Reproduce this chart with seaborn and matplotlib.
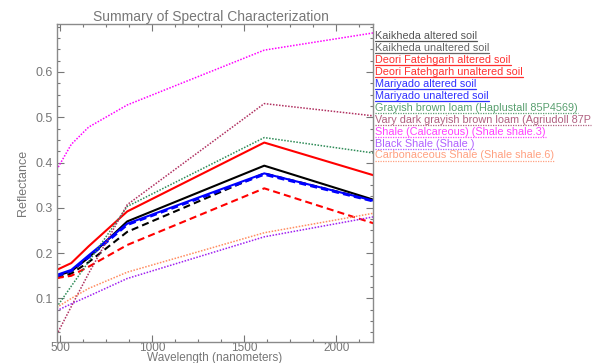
import matplotlib
matplotlib.use("Agg")
import matplotlib.pyplot as plt
import seaborn as sns
import pandas as pd
from matplotlib.lines import Line2D
from matplotlib.ticker import MultipleLocator, FixedLocator

# ---------------- data ----------------
wavelengths = [482, 561, 655, 865, 1609, 2201]

series_labels = [
    "Kaikheda altered soil",
    "Kaikheda unaltered soil",
    "Deori Fatehgarh altered soil",
    "Deori Fatehgarh unaltered soil",
    "Mariyado altered soil",
    "Mariyado unaltered soil",
    "Grayish brown loam (Haplustall 85P4569)",
    "Vary dark grayish brown loam (Agriudoll 87P",
    "Shale (Calcareous) (Shale shale.3)",
    "Black Shale (Shale )",
    "Carbonaceous Shale (Shale shale.6)",
]

kaikheda_altered = [0.150, 0.160, 0.190, 0.270, 0.393, 0.318]
kaikheda_unaltered = [0.145, 0.155, 0.180, 0.247, 0.376, 0.316]
deori_altered = [0.163, 0.178, 0.215, 0.292, 0.444, 0.372]
deori_unaltered = [0.145, 0.150, 0.170, 0.218, 0.343, 0.266]
mariyado_altered = [0.152, 0.163, 0.195, 0.265, 0.376, 0.316]
mariyado_unaltered = [0.149, 0.160, 0.190, 0.262, 0.373, 0.314]
grayish_brown_loam = [0.081, 0.127, 0.181, 0.303, 0.455, 0.421]
very_dark_loam = [0.020, 0.082, 0.155, 0.307, 0.530, 0.503]
shale_calcareous = [0.384, 0.440, 0.478, 0.527, 0.648, 0.686]
black_shale = [0.073, 0.088, 0.105, 0.144, 0.236, 0.280]
carbonaceous_shale = [0.080, 0.100, 0.122, 0.158, 0.245, 0.288]

x_ticks = [500, 1000, 1500, 2000]
y_ticks = [0.1, 0.2, 0.3, 0.4, 0.5, 0.6]

all_values = [kaikheda_altered, kaikheda_unaltered, deori_altered, deori_unaltered,
              mariyado_altered, mariyado_unaltered, grayish_brown_loam, very_dark_loam,
              shale_calcareous, black_shale, carbonaceous_shale]

# ---------------- styles ----------------
line_colors = ["#000000", "#000000", "#ff0000", "#ff0000", "#0000ff", "#0000ff",
               "#2e8b57", "#b03060", "#ff00ff", "#a020f0", "#ff8c60"]
text_colors = ["#555555", "#666666", "#ff3030", "#ff3030", "#3030ff", "#3030ff",
               "#5aa070", "#b06080", "#ff40ff", "#b060ff", "#ffa080"]
dashed = (0, (3.4, 2.0))
dotted = (0, (1.0, 1.0))
line_styles = ["-", dashed, "-", dashed, "-", dashed,
               dotted, dotted, dotted, dotted, dotted]
line_widths = [1.5, 1.5, 1.5, 1.5, 1.5, 1.5, 1.1, 1.1, 1.1, 1.1, 1.1]

sns.set_style("white")
plt.rcParams["font.family"] = ["Liberation Sans", "DejaVu Sans"]

GRAY = "#777777"
W, H = 607, 363
fig = plt.figure(figsize=(W / 100, H / 100), dpi=100)
ax = fig.add_axes([56.7 / W, 1 - 341.5 / H, (373.3 - 56.7) / W, (341.5 - 24.3) / H])

for vals, c, ls, lw in zip(all_values, line_colors, line_styles, line_widths):
    df = pd.DataFrame({"wl": wavelengths, "r": vals})
    sns.lineplot(data=df, x="wl", y="r", ax=ax, color=c, linestyle=ls,
                 linewidth=lw, errorbar=None, sort=False)

ax.set_xlim(482, 2201)
ax.set_ylim(0.005, 0.705)

ax.xaxis.set_major_locator(FixedLocator(x_ticks))
ax.xaxis.set_minor_locator(MultipleLocator(125))
ax.yaxis.set_major_locator(FixedLocator(y_ticks))
ax.yaxis.set_minor_locator(MultipleLocator(0.025))
ax.set_xticklabels([str(v) for v in x_ticks])
ax.set_yticklabels([f"{v:.1f}" for v in y_ticks])

ax.tick_params(axis="both", which="both", direction="in", colors=GRAY,
               top=True, right=True, bottom=True, left=True, width=0.8)
ax.tick_params(axis="both", which="major", length=5)
ax.tick_params(axis="both", which="minor", length=2.5)
ax.tick_params(axis="x", which="major", labelsize=8.5, pad=0.3, labelcolor=GRAY)
ax.tick_params(axis="y", which="major", labelsize=9, pad=3, labelcolor=GRAY)

for sp in ax.spines.values():
    sp.set_color("#8a8a8a")
    sp.set_linewidth(1.0)
    sp.set_visible(True)

ax.set_xlabel("Wavelength (nanometers)", fontsize=8.5, color=GRAY)
ax.xaxis.set_label_coords(0.5, -0.0535)
ax.xaxis.label.set_va("center")
ax.set_ylabel("Reflectance", fontsize=9, color=GRAY)
ax.yaxis.set_label_coords(-0.108, 0.5)
ax.yaxis.label.set_va("center")

fig.text(211 / W, 1 - 17.5 / H, "Summary of Spectral Characterization",
         ha="center", va="center", fontsize=10, color=GRAY)

# ---------------- legend (text list at right, underlined) ----------------
texts = []
for i, (lab, tc) in enumerate(zip(series_labels, text_colors)):
    ypix = 36 + 11.95 * i
    t = fig.text(375 / W, 1 - ypix / H, lab, ha="left", va="center",
                 fontsize=7.8, color=tc)
    texts.append((t, ypix))

fig.canvas.draw()
renderer = fig.canvas.get_renderer()
for (t, ypix), c, ls in zip(texts, text_colors, line_styles):
    bb = t.get_window_extent(renderer)
    x0, x1 = bb.x0, min(bb.x1, W)
    yl = 1 - (ypix + 5.2) / H
    uls = "-" if ls == "-" or ls == dashed else dotted
    fig.add_artist(Line2D([x0 / W, x1 / W], [yl, yl], transform=fig.transFigure,
                          color=c, linewidth=0.9, linestyle=uls))

fig.savefig("out.png", dpi=100)
